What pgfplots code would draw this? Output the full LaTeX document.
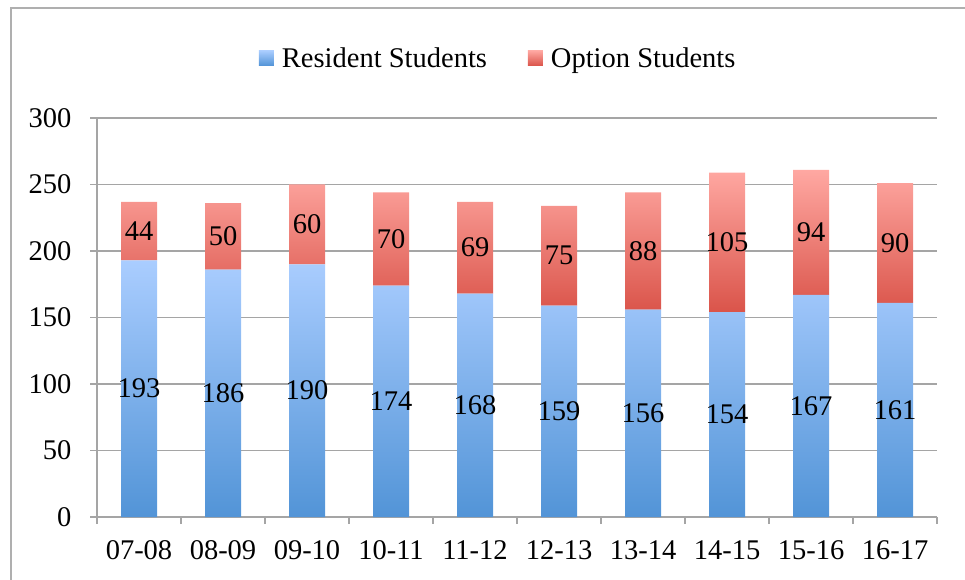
\documentclass[border=0pt]{standalone}
\usepackage{fontspec}
\setmainfont{Liberation Serif}
\usepackage{pgfplots}
\pgfplotsset{compat=1.18}
\definecolor{bluetop}{RGB}{170,205,255}
\definecolor{bluebot}{RGB}{82,148,215}
\definecolor{redtop}{RGB}{255,168,162}
\definecolor{redbot}{RGB}{218,84,74}
\definecolor{gridgray}{RGB}{165,165,165}
\definecolor{bordergray}{RGB}{175,175,175}
\pgfplotsset{
  centered labels/.style={
    nodes near coords,
    every node near coord/.style={
      anchor=center,
      font=\fontsize{28.5}{32}\selectfont,
      text=black
    }
  }
}
\pgfplotstableread{
x res opt
0 193 44
1 186 50
2 190 60
3 174 70
4 168 69
5 159 75
6 156 88
7 154 105
8 167 94
9 161 90
}\datatable
\begin{document}
\begin{tikzpicture}
\useasboundingbox (0,0) rectangle (965pt,580pt);
\draw[bordergray, line width=1.5pt] (11pt,0) -- (11pt,572pt) -- (965pt,572pt);
\begin{axis}[
  at={(97pt,63pt)}, anchor=south west,
  scale only axis, width=840pt, height=399pt,
  ybar stacked, bar width=36pt,
  xmin=-0.5, xmax=9.5, ymin=0, ymax=300,
  ytick={0,50,...,300},
  xtick={0,...,9},
  xticklabels={07-08,08-09,09-10,10-11,11-12,12-13,13-14,14-15,15-16,16-17},
  minor xtick={-0.5,0.5,...,9.5},
  axis x line=bottom, axis y line=left,
  axis line style={gridgray, line width=1.5pt, -},
  ymajorgrids, major grid style={gridgray, line width=1.5pt},
  tick style={gridgray, line width=1.5pt},
  major tick length=7pt, minor tick length=7pt,
  tick align=outside,
  every major x tick/.append style={draw=none},
  ticklabel style={font=\fontsize{28.5}{32}\selectfont},
  yticklabel style={anchor=east, xshift=-15pt},
  xticklabel style={anchor=north, yshift=-13pt},
  /pgf/number format/assume math mode=true,
  legend style={at={(0.189,1.150)}, anchor=west, draw=none, fill=none,
    legend columns=2, font=\fontsize{28.5}{32}\selectfont,
    /tikz/every odd column/.append style={column sep=6pt},
    /tikz/every even column/.append style={column sep=39pt}},
  legend cell align=left,
]
\addplot[draw=none, shading=axis, top color=bluetop, bottom color=bluebot, centered labels,
  legend image code/.code={\fill[shading=axis, top color=bluetop, bottom color=bluebot] (0pt,-7.5pt) rectangle (15pt,7.5pt);}]
  table[x=x, y=res] {\datatable};
\addlegendentry{Resident Students}
\addplot[draw=none, shading=axis, top color=redtop, bottom color=redbot, centered labels,
  legend image code/.code={\fill[shading=axis, top color=redtop, bottom color=redbot] (0pt,-7.5pt) rectangle (15pt,7.5pt);}]
  table[x=x, y=opt] {\datatable};
\addlegendentry{Option Students}
\end{axis}
\end{tikzpicture}
\end{document}
